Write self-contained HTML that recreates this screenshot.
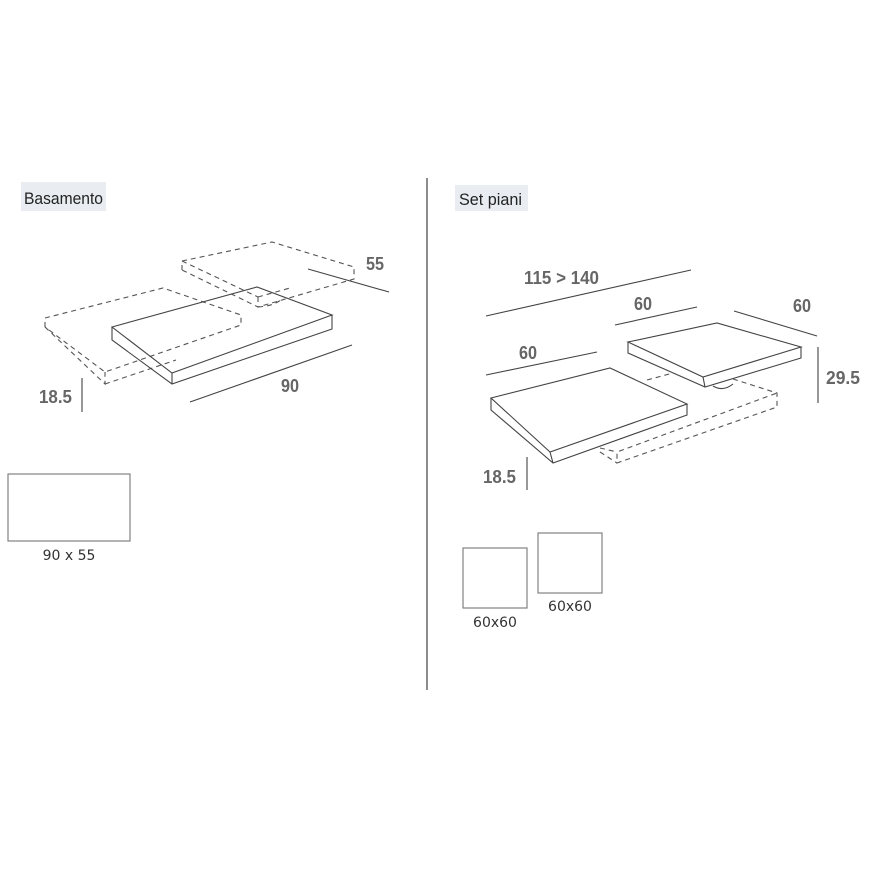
<!DOCTYPE html>
<html><head><meta charset="utf-8"><style>
html,body{margin:0;padding:0;background:#fff;}
svg{display:block;}
.d{font-family:"Liberation Sans",sans-serif;font-weight:bold;font-size:18px;fill:#666;}
.t{font-family:"Liberation Sans",sans-serif;font-size:17px;fill:#222;}
.s{font-family:"DejaVu Sans","Liberation Sans",sans-serif;font-size:14px;fill:#333;}
</style></head><body>
<svg width="870" height="870" viewBox="0 0 870 870" xmlns="http://www.w3.org/2000/svg">
<g fill="none" stroke="#444" stroke-width="1.1">
<!-- LEFT -->
<rect x="21" y="182" width="85" height="29" fill="#e9edf1" stroke="none"/>
<g stroke-dasharray="5,4" stroke="#555">
 <polyline points="45,327 45,318 163,288 241,315 241,325 105,372 45,327"/>
 <polyline points="45,327 105,384 105,372"/>
 <line x1="105" y1="384" x2="176" y2="360"/>
 <polyline points="182,270 182,261 272,242 354,267 354,279 258,307 182,270"/>
 <line x1="182" y1="261" x2="258" y2="297"/>
 <line x1="258" y1="297" x2="258" y2="307"/>
 <line x1="258" y1="297" x2="290" y2="288"/>
 <path d="M258,307 Q275,306 283,298"/>
</g>
<polygon points="112,327 257,287 332,315 172,373"/>
<polyline points="112,327 112,340 172,384 332,329 332,315"/>
<line x1="172" y1="373" x2="172" y2="384"/>
<line x1="308" y1="269" x2="389" y2="292"/>
<line x1="190" y1="402" x2="352" y2="345"/>
<line x1="82" y1="378" x2="82" y2="412"/>
<rect x="8" y="474" width="122" height="67" stroke="#777"/>
<line x1="427" y1="178" x2="427" y2="690" stroke="#666" stroke-width="1.5"/>
<!-- RIGHT -->
<rect x="455" y="185" width="73" height="26" fill="#e9edf1" stroke="none"/>
<g stroke-dasharray="5,4" stroke="#555">
 <line x1="647" y1="380" x2="673" y2="373"/>
 <polyline points="733,379 777,393 777,407 617,463 617,452 777,393"/>
 <line x1="600" y1="448" x2="617" y2="452"/>
 <line x1="600" y1="452" x2="617" y2="463"/>
</g>
<path d="M713,386 Q723,392 733,384" />
<polygon points="628,342 717,323 801,347 703,377" fill="#fff"/>
<polyline points="628,342 628,353 705,387 801,358 801,347"/>
<line x1="703" y1="377" x2="705" y2="387"/>
<polygon points="491,398 610,368 687,404 550,452" fill="#fff"/>
<polyline points="491,398 491,410 553,463 687,415 687,404"/>
<line x1="550" y1="452" x2="553" y2="463"/>
<line x1="486" y1="316" x2="691" y2="270"/>
<line x1="615" y1="325" x2="697" y2="307"/>
<line x1="734" y1="311" x2="817" y2="336"/>
<line x1="486" y1="375" x2="597" y2="352"/>
<line x1="818" y1="347" x2="818" y2="403"/>
<line x1="527" y1="457" x2="527" y2="490"/>
<rect x="463" y="548" width="64" height="60" stroke="#777"/>
<rect x="538" y="533" width="64" height="60" stroke="#777"/>
</g>
<text class="t" x="24" y="204" textLength="79" lengthAdjust="spacingAndGlyphs">Basamento</text>
<text class="t" x="459" y="205" textLength="63" lengthAdjust="spacingAndGlyphs">Set piani</text>
<text class="d" x="366" y="270" textLength="18" lengthAdjust="spacingAndGlyphs">55</text>
<text class="d" x="281" y="392" textLength="18" lengthAdjust="spacingAndGlyphs">90</text>
<text class="d" x="39" y="403" textLength="33" lengthAdjust="spacingAndGlyphs">18.5</text>
<text class="s" x="69" y="560" text-anchor="middle">90 x 55</text>
<text class="d" x="524" y="284" textLength="75" lengthAdjust="spacingAndGlyphs">115 &gt; 140</text>
<text class="d" x="634" y="310" textLength="18" lengthAdjust="spacingAndGlyphs">60</text>
<text class="d" x="793" y="312" textLength="18" lengthAdjust="spacingAndGlyphs">60</text>
<text class="d" x="519" y="359" textLength="18" lengthAdjust="spacingAndGlyphs">60</text>
<text class="d" x="826" y="384" textLength="34" lengthAdjust="spacingAndGlyphs">29.5</text>
<text class="d" x="483" y="483" textLength="33" lengthAdjust="spacingAndGlyphs">18.5</text>
<text class="s" x="495" y="627" text-anchor="middle">60x60</text>
<text class="s" x="570" y="611" text-anchor="middle">60x60</text>
</svg>
</body></html>
